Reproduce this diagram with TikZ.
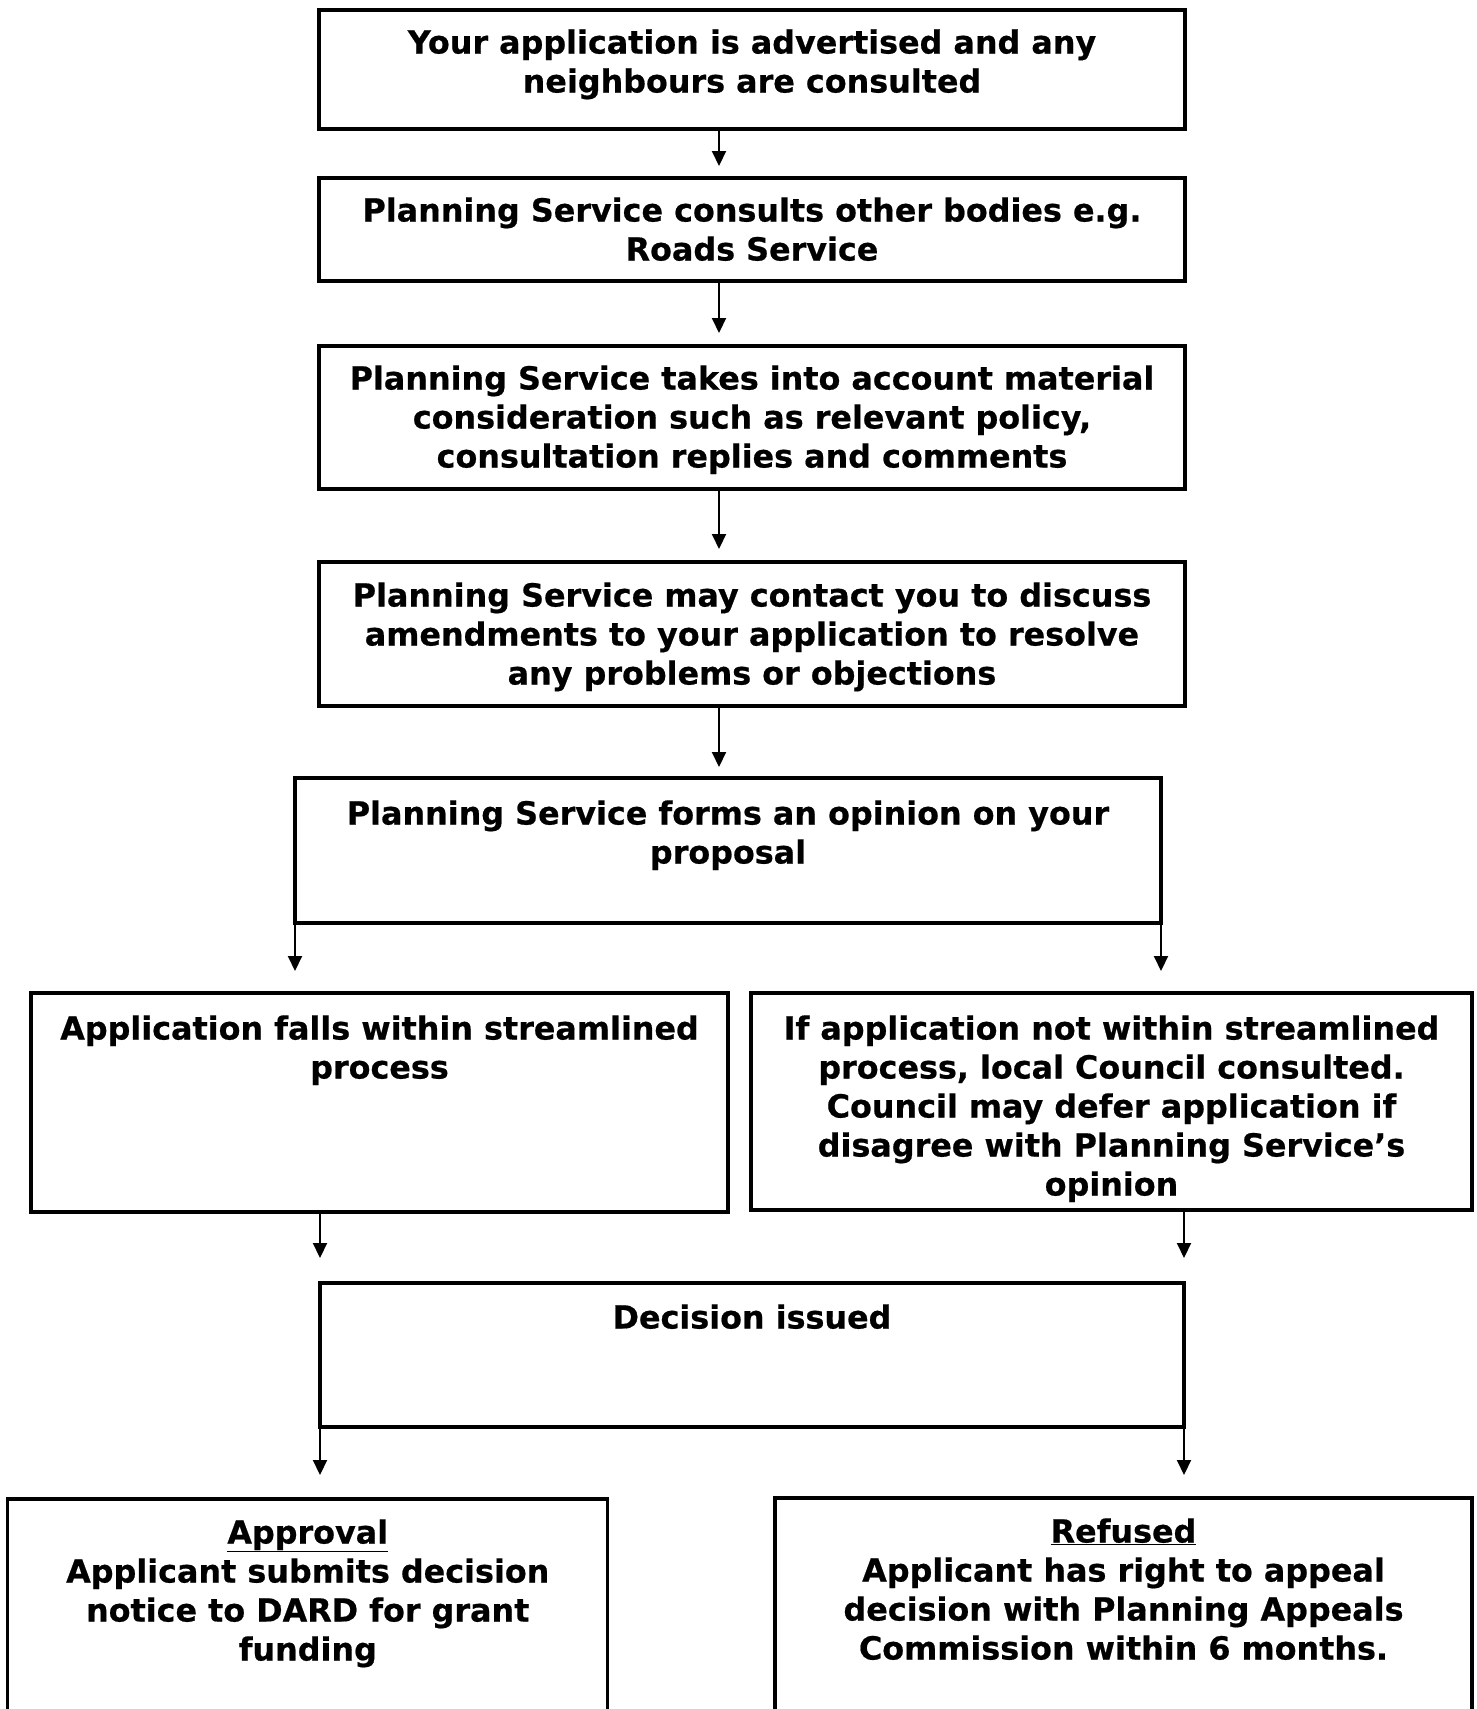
\documentclass[tikz,border=0pt]{standalone}
\usepackage{fontspec}
\setmainfont{DejaVu Sans}[BoldFeatures={FakeBold=0.6}]
\usetikzlibrary{arrows.meta}
\begin{document}
\begin{tikzpicture}[x=1pt,y=-1pt,
  box/.style={draw=black, line width=3.4pt, rectangle, inner sep=0pt, outer sep=0pt, anchor=north west},
  txt/.style={font=\bfseries\fontsize{31.8}{39}\selectfont, align=center, anchor=north, inner sep=0pt},
  arr/.style={draw=black, line width=2pt, -{Triangle[length=15pt,width=14pt]}}]
\useasboundingbox (0,0) rectangle (1477,1709);
% boxes
\node[box, minimum width=866pt, minimum height=119pt] (b1) at (319,10) {};
\node[box, minimum width=866pt, minimum height=103pt] (b2) at (319,178) {};
\node[box, minimum width=866pt, minimum height=143pt] (b3) at (319,346) {};
\node[box, minimum width=866pt, minimum height=144pt] (b4) at (319,562) {};
\node[box, minimum width=866pt, minimum height=145pt] (b5) at (295,778) {};
\node[box, minimum width=697pt, minimum height=219pt] (b6) at (31,993) {};
\node[box, minimum width=721pt, minimum height=217pt] (b7) at (751,993) {};
\node[box, minimum width=864pt, minimum height=144pt] (b8) at (320,1283) {};
\node[box, minimum width=600pt, minimum height=225pt] (b9) at (7.5,1499) {};
\node[box, minimum width=697pt, minimum height=226pt] (b10) at (775,1498) {};
% texts
\node[txt] (t1) at (752,26) {\strut Your application is advertised and any\\neighbours are consulted};
\node[txt] (t2) at (752,194) {\strut Planning Service consults other bodies e.g.\\Roads Service};
\node[txt] (t3) at (752,362) {\strut Planning Service takes into account material\\consideration such as relevant policy,\\consultation replies and comments};
\node[txt] (t4) at (752,579) {\strut Planning Service may contact you to discuss\\amendments to your application to resolve\\any problems or objections};
\node[txt] (t5) at (728,797) {\strut Planning Service forms an opinion on your\\proposal};
\node[txt] (t6) at (379.5,1012) {\strut Application falls within streamlined\\process};
\node[txt] (t7) at (1111.5,1012) {\strut If application not within streamlined\\process, local Council consulted.\\Council may defer application if\\disagree with Planning Service’s\\opinion};
\node[txt] (t8) at (752,1301) {\strut Decision issued};
\node[txt] (t9) at (307.75,1516) {\strut\underline{Approval}\\Applicant submits decision\\notice to DARD for grant\\funding};
\node[txt] (t10) at (1123.5,1515) {\strut\underline{Refused}\\Applicant has right to appeal\\decision with Planning Appeals\\Commission within 6 months.};
% arrow tips
\coordinate (e1) at (719,166);
\coordinate (e2) at (719,333);
\coordinate (e3) at (719,549);
\coordinate (e4) at (719,767);
\coordinate (e5) at (295,971);
\coordinate (e6) at (1161,971);
\coordinate (e7) at (320,1258);
\coordinate (e8) at (1184,1258);
\coordinate (e9) at (320,1475);
\coordinate (e10) at (1184,1475);
% connectors
\draw[arr] (b1.south -| e1) -- (e1);
\draw[arr] (b2.south -| e2) -- (e2);
\draw[arr] (b3.south -| e3) -- (e3);
\draw[arr] (b4.south -| e4) -- (e4);
\draw[arr] (b5.south west) -- (e5);
\draw[arr] (b5.south east) -- (e6);
\draw[arr] (b6.south -| e7) -- (e7);
\draw[arr] (b7.south -| e8) -- (e8);
\draw[arr] (b8.south west) -- (e9);
\draw[arr] (b8.south east) -- (e10);
\end{tikzpicture}
\end{document}
